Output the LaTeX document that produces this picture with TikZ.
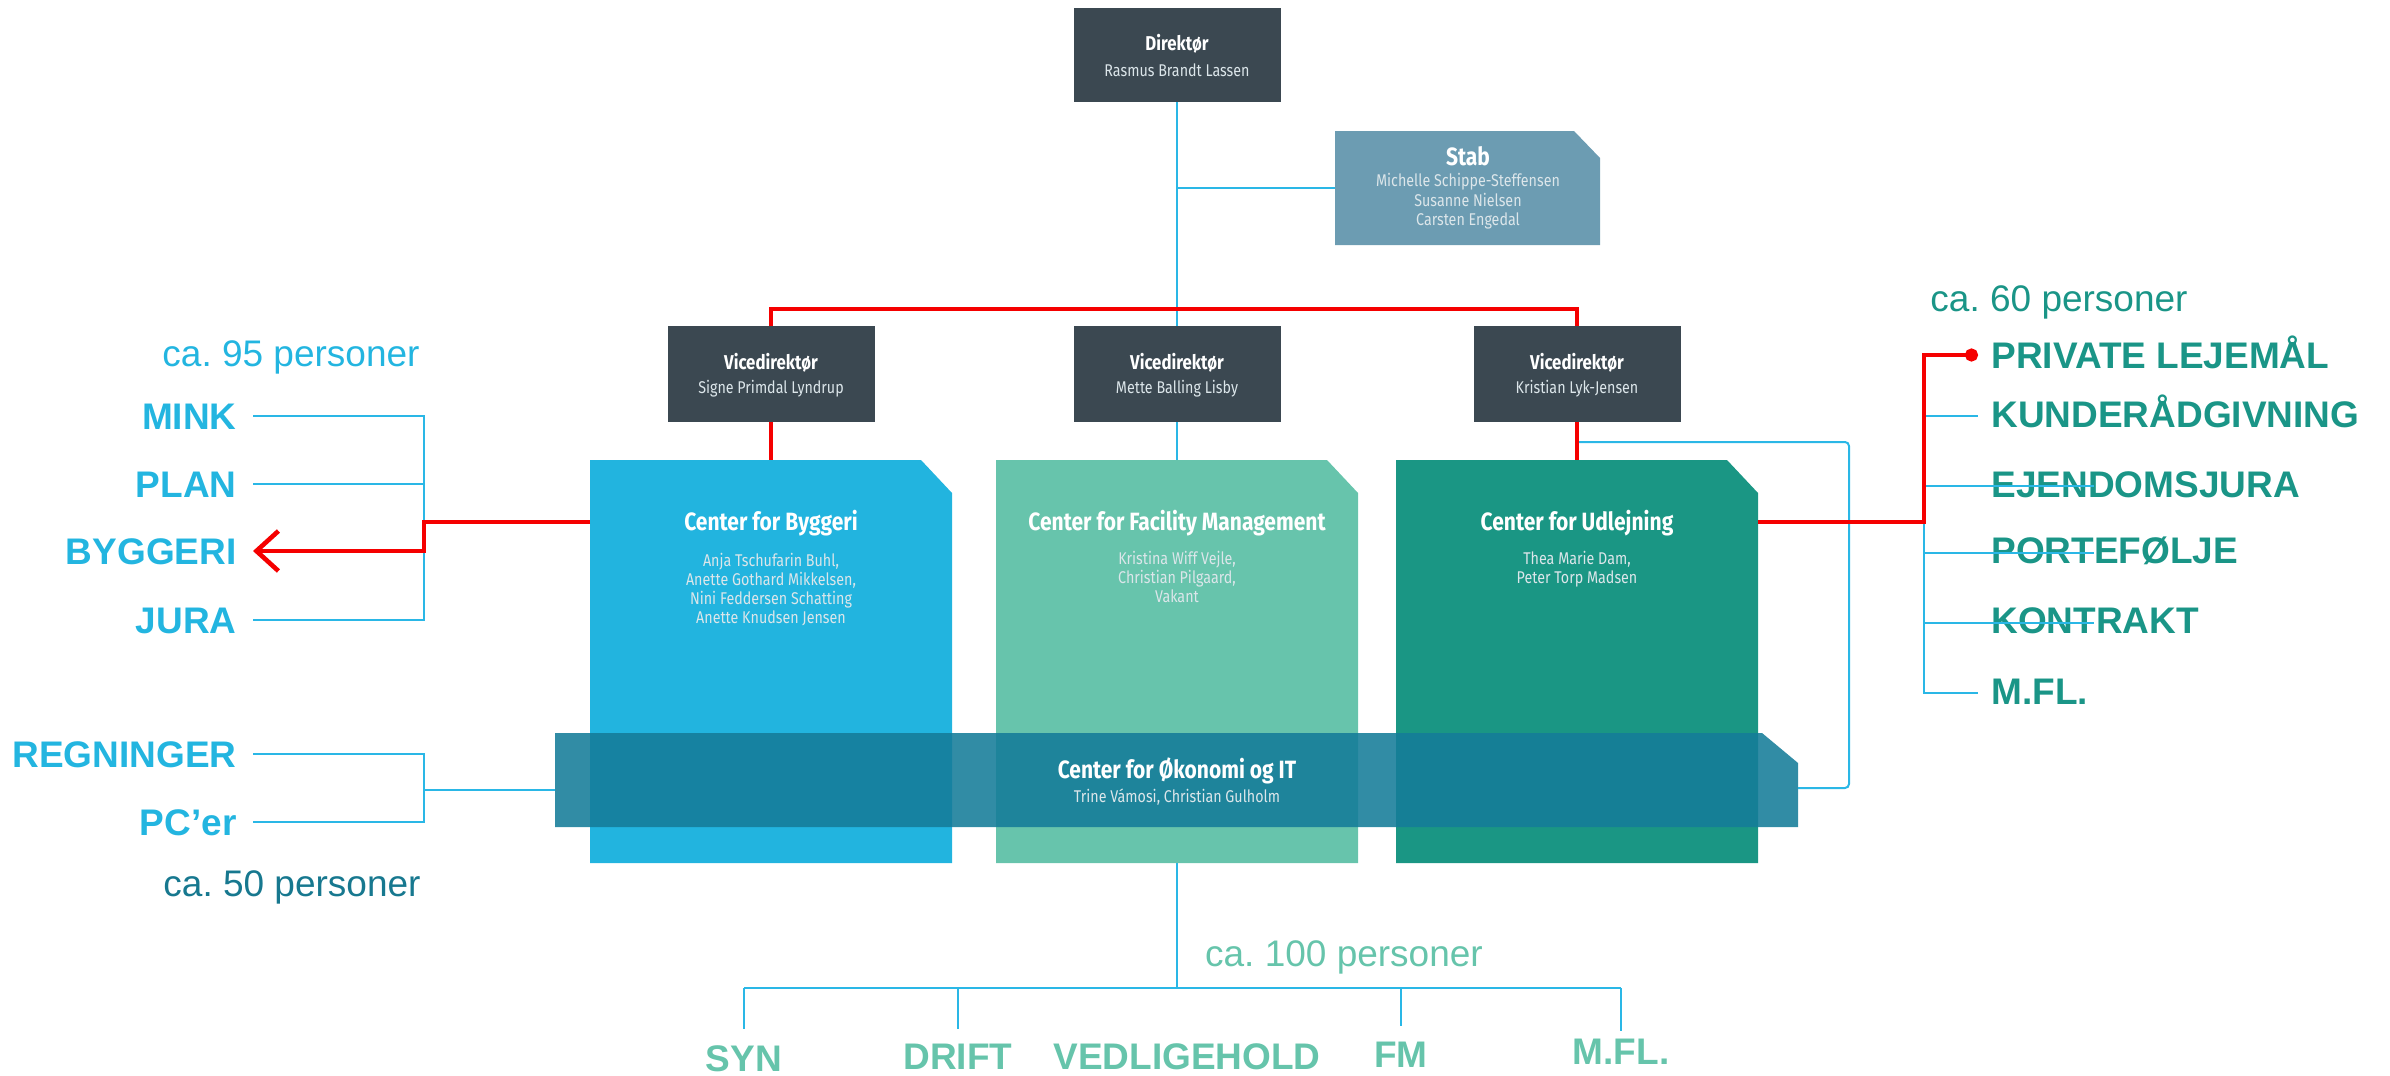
\documentclass[tikz,border=0pt]{standalone}
\usepackage{fontspec}
\setmainfont{Liberation Sans}
\newfontfamily\din[FakeStretch=0.84]{Fira Sans}
\usetikzlibrary{arrows.meta}
\frenchspacing
\definecolor{darkboxc}{HTML}{3B4851}
\definecolor{stabc}{HTML}{6C9CB2}
\definecolor{bygc}{HTML}{22B4DF}
\definecolor{fmc}{HTML}{67C4AC}
\definecolor{udc}{HTML}{1A9684}
\definecolor{okc}{HTML}{157C99}
\definecolor{linec}{HTML}{2AB7E6}
\definecolor{redc}{HTML}{F50000}
\definecolor{lab95}{HTML}{23B5E0}
\definecolor{lab50}{HTML}{17788F}
\definecolor{lab60}{HTML}{1A9587}
\definecolor{lab100}{HTML}{66C4AB}
\definecolor{namec}{HTML}{DCE6EA}
\begin{document}
\begin{tikzpicture}[x=0.5pt,y=-0.5pt,
  conn/.style={draw=linec, line width=1pt},
  redline/.style={draw=redc, line width=2.3pt},
  dbox/.style={fill=darkboxc, minimum width=103.5pt, minimum height=47pt, inner sep=0pt, outer sep=0pt},
  vbox/.style={fill=darkboxc, minimum width=103.5pt, minimum height=48pt, inner sep=0pt, outer sep=0pt},
  cbox/.style={inner sep=0pt, outer sep=0pt, minimum width=181pt, minimum height=201.5pt},
  lab/.style={font=\bfseries\fontsize{18.5}{20}\selectfont, inner sep=0pt, text height=13.2pt, text depth=0pt},
  cnt/.style={font=\fontsize{18.5}{20}\selectfont, inner sep=0pt, text height=13.2pt, text depth=0pt},
  bigttl/.style={text=white, font=\din\bfseries\fontsize{12.5}{14}\selectfont, inner sep=0pt, text height=8.6pt, text depth=0pt},
  smallttl/.style={text=white, font=\din\bfseries\fontsize{10}{12}\selectfont, inner sep=0pt, text height=6.9pt, text depth=0pt},
  nm/.style={text=namec, font=\din\fontsize{8.5}{10}\selectfont, inner sep=0pt, text height=6pt, text depth=0pt}
]
\useasboundingbox (0,0) rectangle (2390,1076);

% --- top boxes
\node[dbox] (dir) at (1177,55) {};
\node[smallttl] (dirT) at (1177,44) {Direktør};
\node[nm] (dirN) at (1177,70) {Rasmus Brandt Lassen};

\node[cbox, minimum width=132.5pt, minimum height=57pt] (stab) at (1467.5,188) {};
\fill[stabc] (stab.south west) -- (stab.north west) -- ([xshift=-13pt]stab.north east) -- ([yshift=-13.5pt]stab.north east) -- (stab.south east) -- cycle;
\node[bigttl] (stabT) at (1468,157) {Stab};
\node[nm] (stabN1) at (1468,180) {Michelle Schippe-Steffensen};
\node[nm] (stabN2) at (1468,200) {Susanne Nielsen};
\node[nm] (stabN3) at (1468,219) {Carsten Engedal};

\node[vbox] (vl) at (771,374) {};
\node[smallttl] (vlT) at (771,363) {Vicedirektør};
\node[nm] (vlN) at (771,387) {Signe Primdal Lyndrup};
\node[vbox] (vc) at (1177,374) {};
\node[smallttl] (vcT) at (1177,363) {Vicedirektør};
\node[nm] (vcN) at (1177,387) {Mette Balling Lisby};
\node[vbox] (vr) at (1577,374) {};
\node[smallttl] (vrT) at (1577,363) {Vicedirektør};
\node[nm] (vrN) at (1577,387) {Kristian Lyk-Jensen};

% --- centre boxes
\node[cbox] (byg) at (771,661.5) {};
\node[cbox] (fm) at (1177,661.5) {};
\node[cbox] (udl) at (1577,661.5) {};
\fill[bygc] (byg.south west) -- (byg.north west) -- ([xshift=-15.5pt]byg.north east) -- ([yshift=-16.5pt]byg.north east) -- (byg.south east) -- cycle;
\fill[fmc] (fm.south west) -- (fm.north west) -- ([xshift=-15.5pt]fm.north east) -- ([yshift=-16.5pt]fm.north east) -- (fm.south east) -- cycle;
\fill[udc] (udl.south west) -- (udl.north west) -- ([xshift=-15.5pt]udl.north east) -- ([yshift=-16.5pt]udl.north east) -- (udl.south east) -- cycle;

\node[bigttl] (bygT) at (771,522) {Center for Byggeri};
\node[nm] (bygN1) at (771,560) {Anja Tschufarin Buhl,};
\node[nm] (bygN2) at (771,579) {Anette Gothard Mikkelsen,};
\node[nm] (bygN3) at (771,598) {Nini Feddersen Schatting};
\node[nm] (bygN4) at (771,617) {Anette Knudsen Jensen};

\node[bigttl] (fmT) at (1177,522) {Center for Facility Management};
\node[nm] (fmN1) at (1177,558) {Kristina Wiff Vejle,};
\node[nm] (fmN2) at (1177,577) {Christian Pilgaard,};
\node[nm] (fmN3) at (1177,596) {Vakant};

\node[bigttl] (udlT) at (1577,522) {Center for Udlejning};
\node[nm] (udlN1) at (1577,558) {Thea Marie Dam,};
\node[nm] (udlN2) at (1577,577) {Peter Torp Madsen};

% --- band
\node[cbox, minimum width=621.5pt, minimum height=47pt] (okb) at (1176.5,780) {};
\fill[okc, fill opacity=0.88] (okb.south west) -- (okb.north west) -- ([xshift=-18pt]okb.north east) -- ([yshift=-15pt]okb.north east) -- (okb.south east) -- cycle;
\node[bigttl] (okT) at (1177,770) {Center for Økonomi og IT};
\node[nm] (okN) at (1177,796) {Trine Vámosi, Christian Gulholm};

% --- left labels
\node[cnt, text=lab95] (c95) at (291,353) {ca.\ 95 personer};
\node[lab, text=lab95, anchor=east] (mink) at (237,416) {MINK};
\node[lab, text=lab95, anchor=east] (plan) at (237,484) {PLAN};
\node[lab, text=lab95, anchor=east] (byggeri) at (237,551) {BYGGERI};
\node[lab, text=lab95, anchor=east] (jura) at (237,620) {JURA};
\node[lab, text=lab95, anchor=east] (regn) at (237,754) {REGNINGER};
\node[lab, text=lab95, anchor=east] (pcer) at (237,822) {PC’er};
\node[cnt, text=lab50] (c50) at (292,883) {ca.\ 50 personer};

% --- right labels
\node[cnt, text=lab60] (c60) at (2059,298) {ca.\ 60 personer};
\node[lab, text=lab60, anchor=west] (priv) at (1991,355) {PRIVATE LEJEMÅL};
\node[lab, text=lab60, anchor=west] (kunde) at (1991,414) {KUNDERÅDGIVNING};
\node[lab, text=lab60, anchor=west] (ejen) at (1991,484) {EJENDOMSJURA};
\node[lab, text=lab60, anchor=west] (porte) at (1991,550) {PORTEFØLJE};
\node[lab, text=lab60, anchor=west] (kontr) at (1991,620) {KONTRAKT};
\node[lab, text=lab60, anchor=west] (rmfl) at (1991,691) {M.FL.};

% --- bottom labels
\node[cnt, text=lab100] (c100) at (1344,953) {ca.\ 100 personer};
\node[lab, text=lab100] (syn) at (744,1058) {SYN};
\node[lab, text=lab100] (drift) at (958,1056) {DRIFT};
\node[lab, text=lab100] (vedl) at (1187,1056) {VEDLIGEHOLD};
\node[lab, text=lab100] (bfm) at (1401,1054) {FM};
\node[lab, text=lab100] (bmfl) at (1621,1051) {M.FL.};

% --- coordinates
\coordinate (lk) at (424,551);
\coordinate (lm) at (424,790);
\coordinate (rv) at (1924,355);
\coordinate (uo) at (1577,442);
\coordinate (uc) at (1849,788);
\coordinate (bj) at (1177,988);

% --- blue connectors
\draw[conn] (dir.south) -- (vc.north);
\draw[conn] (dir.south |- stab.west) -- (stab.west);
\draw[conn] (vc.south) -- (fm.north);
\draw[conn] ([xshift=8pt]mink.east) -- ++(171,0) |- ([xshift=8pt]jura.east);
\draw[conn] ([xshift=8pt]plan.east) -- ++(171,0);
\draw[conn] ([xshift=8pt]regn.east) -- ++(171,0) |- ([xshift=8pt]pcer.east);
\draw[conn] (lm) -- (lm -| okb.west);
\draw[conn, rounded corners=2pt] (uo) -| (uc) -- (okb.east |- uc);
\draw[conn] (rv) |- ([xshift=-6.5pt,yshift=-1pt]rmfl.west);
\draw[conn] (rv |- kunde) ++(0,2) -- ([xshift=-6.5pt,yshift=-1pt]kunde.west);
\draw[conn] (rv |- ejen) ++(0,2) -- ++(170,0);
\draw[conn] (rv |- porte) ++(0,3) -- ++(170,0);
\draw[conn] (rv |- kontr) ++(0,3) -- ++(170,0);
\draw[conn] (fm.south) -- (bj);
\draw[conn] (syn.north |- bj) -- (bmfl.north |- bj);
\draw[conn] (syn.north |- bj) -- ([yshift=7.5pt]syn.north);
\draw[conn] (drift.north |- bj) -- ([yshift=6.5pt]drift.north);
\draw[conn] (bfm.north |- bj) -- ([yshift=7pt]bfm.north);
\draw[conn] (bmfl.north |- bj) -- ([yshift=3pt]bmfl.north);

% --- red connectors
\draw[redline] (vl.north) -- ++(0,-17) -| (vr.north);
\draw[redline] (vl.south) -- (byg.north);
\draw[redline] (vr.south) -- (udl.north);
\draw[redline, -{Straight Barb[length=11pt,width=20pt]}] (bygT -| byg.west) -| (lk) -- ([xshift=8pt]byggeri.east);
\draw[redline, -{Circle[length=6.5pt]}] (udlT -| udl.east) -| (rv) -- ([xshift=-6.5pt]priv.west);
\end{tikzpicture}
\end{document}
